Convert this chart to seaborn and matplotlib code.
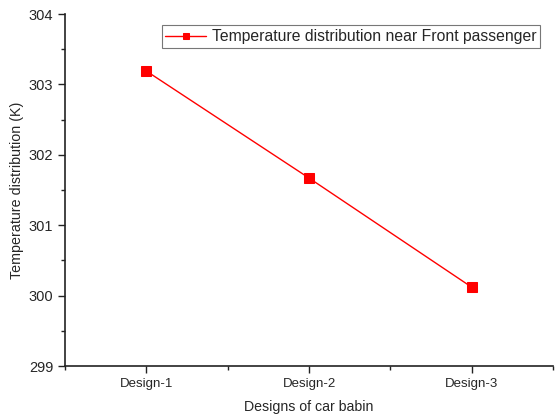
import matplotlib
matplotlib.use("Agg")
import matplotlib.pyplot as plt
import seaborn as sns
import pandas as pd
from matplotlib.ticker import MultipleLocator, FixedLocator

designs = ["Design-1", "Design-2", "Design-3"]
temps = [303.19, 301.67, 300.12]
series_name = "Temperature distribution near Front passenger"

sns.set_style("ticks")
plt.rcParams['font.family'] = ['Liberation Sans', 'DejaVu Sans']

df = pd.DataFrame({"design": designs, "temp": temps})

fig = plt.figure(figsize=(5.59, 4.19), dpi=100)
ax = fig.add_axes([65/559, 1-366/419, (553-65)/559, (366-14)/419])

sns.lineplot(data=df, x="design", y="temp", ax=ax, color="#ff0000",
             marker="s", markersize=7, markeredgecolor="#ff0000",
             linewidth=1.0, label=series_name, sort=False)

ax.set_xlim(-0.5, 2.5)
ax.set_ylim(299, 304)
ax.yaxis.set_major_locator(MultipleLocator(1))
ax.yaxis.set_minor_locator(MultipleLocator(0.5))
ax.xaxis.set_minor_locator(FixedLocator([-0.5, 0.5, 1.5, 2.5]))
ax.tick_params(axis="both", which="major", direction="out", length=5, width=1.0,
               color="#222222")
ax.tick_params(axis="x", which="major", labelsize=9.5)
ax.tick_params(axis="y", which="major", labelsize=10.5)
ax.tick_params(axis="both", which="minor", direction="out", length=3, width=1.0,
               color="#222222")
for s in ["top", "right"]:
    ax.spines[s].set_visible(False)
for s in ["left", "bottom"]:
    ax.spines[s].set_linewidth(1.2)
    ax.spines[s].set_color("#222222")

ax.set_xlabel("Designs of car babin", fontsize=10.2, labelpad=7)
ax.set_ylabel("Temperature distribution (K)", fontsize=10.3, labelpad=3)

leg = ax.legend(loc="upper right", bbox_to_anchor=(0.99, 0.99), fontsize=11.3,
                frameon=True, fancybox=False, edgecolor="#555555",
                handlelength=2.6, borderpad=0.25, handletextpad=0.35)
leg.get_frame().set_linewidth(0.8)
for h in leg.legend_handles:
    h.set_markersize(5)

fig.savefig("out.png", dpi=100)
